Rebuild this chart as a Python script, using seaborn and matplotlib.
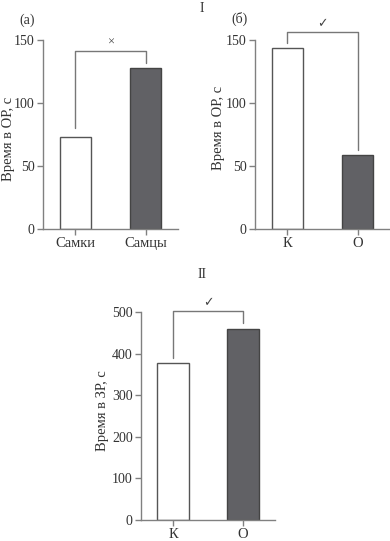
import matplotlib
matplotlib.use("Agg")
import matplotlib.pyplot as plt
import seaborn as sns
import pandas as pd

# ---- data ----
cats_a = ["Самки", "Самцы"]
vals_a = [73, 128]
cats_b = ["К", "О"]
vals_b = [144, 59]
cats_c = ["К", "О"]
vals_c = [377, 459]

# bracket annotations: (left leg bottom, top, right leg bottom), marker
br_a = [80, 141, 132]
mark_a = "×"
br_b = [148, 156, 63]
mark_b = "✓"
br_c = [389, 502, 473]
mark_c = "✓"

ylab_or = "Время в ОР, с"
ylab_zr = "Время в ЗР, с"

sns.set_theme(style="ticks")
plt.rcParams["font.family"] = ["Liberation Serif", "DejaVu Sans"]

SPINE = "#808080"
TXT = "#333333"
colors = ["#ffffff", "#616165"]
edges = ["#555555", "#444444"]

fig = plt.figure(figsize=(3.9, 5.41), dpi=100)
H = 541.0
W = 390.0

def make_ax(x0, x1, ytop, ybot):
    return fig.add_axes([x0 / W, 1 - ybot / H, (x1 - x0) / W, (ybot - ytop) / H])

ax_a = make_ax(43, 178, 40, 229)
ax_b = make_ax(255, 390, 40, 229)
ax_c = make_ax(141, 275, 312, 520)

def draw(ax, cats, vals, ylim, yticks, ylabel, br, mark, lab_xy):
    df = pd.DataFrame({"cat": cats, "val": vals})
    sns.barplot(data=df, x="cat", y="val", hue="cat", palette=colors,
                width=0.45, legend=False, ax=ax, linewidth=1.0, saturation=1)
    for p, ec in zip(ax.patches, edges):
        p.set_edgecolor(ec)
    ax.set_xlim(-0.46, 1.46)
    ax.set_ylim(*ylim)
    ax.set_yticks(yticks)
    ax.set_xlabel("")
    ax.set_ylabel(ylabel, fontsize=10.5, color=TXT)
    ax.yaxis.set_label_coords(*lab_xy)
    sns.despine(ax=ax)
    for s in ["left", "bottom"]:
        ax.spines[s].set_color(SPINE)
        ax.spines[s].set_linewidth(1.0)
    ax.tick_params(axis="both", colors=SPINE, labelcolor=TXT, labelsize=10,
                   length=4, width=1, pad=2)
    ax.tick_params(axis="x", labelsize=10.5)
    # significance bracket
    ax.plot([0, 0, 1, 1], [br[0], br[1], br[1], br[2]], color="#777777",
            lw=1.0, clip_on=False)
    rng = ylim[1] - ylim[0]
    ax.text(0.5, br[1] + rng * 0.012, mark, ha="center", va="bottom",
            fontsize=9, color="#444444", clip_on=False)

draw(ax_a, cats_a, vals_a, (0, 150), [0, 50, 100, 150], ylab_or, br_a, mark_a, (-0.205, 0.476))
draw(ax_b, cats_b, vals_b, (0, 150), [0, 50, 100, 150], ylab_or, br_b, mark_b, (-0.222, 0.537))
draw(ax_c, cats_c, vals_c, (0, 500), [0, 100, 200, 300, 400, 500], ylab_zr, br_c, mark_c, (-0.239, 0.524))

fig.text(27 / W, 1 - 20 / H, "(а)", ha="center", va="center", fontsize=10, color=TXT)
fig.text(240 / W, 1 - 19 / H, "(б)", ha="center", va="center", fontsize=10, color=TXT)
fig.text(202 / W, 1 - 8 / H, "I", ha="center", va="center", fontsize=10, color=TXT)
fig.text(202 / W, 1 - 274 / H, "II", ha="center", va="center", fontsize=10, color=TXT)

fig.savefig("out.png", dpi=100)
